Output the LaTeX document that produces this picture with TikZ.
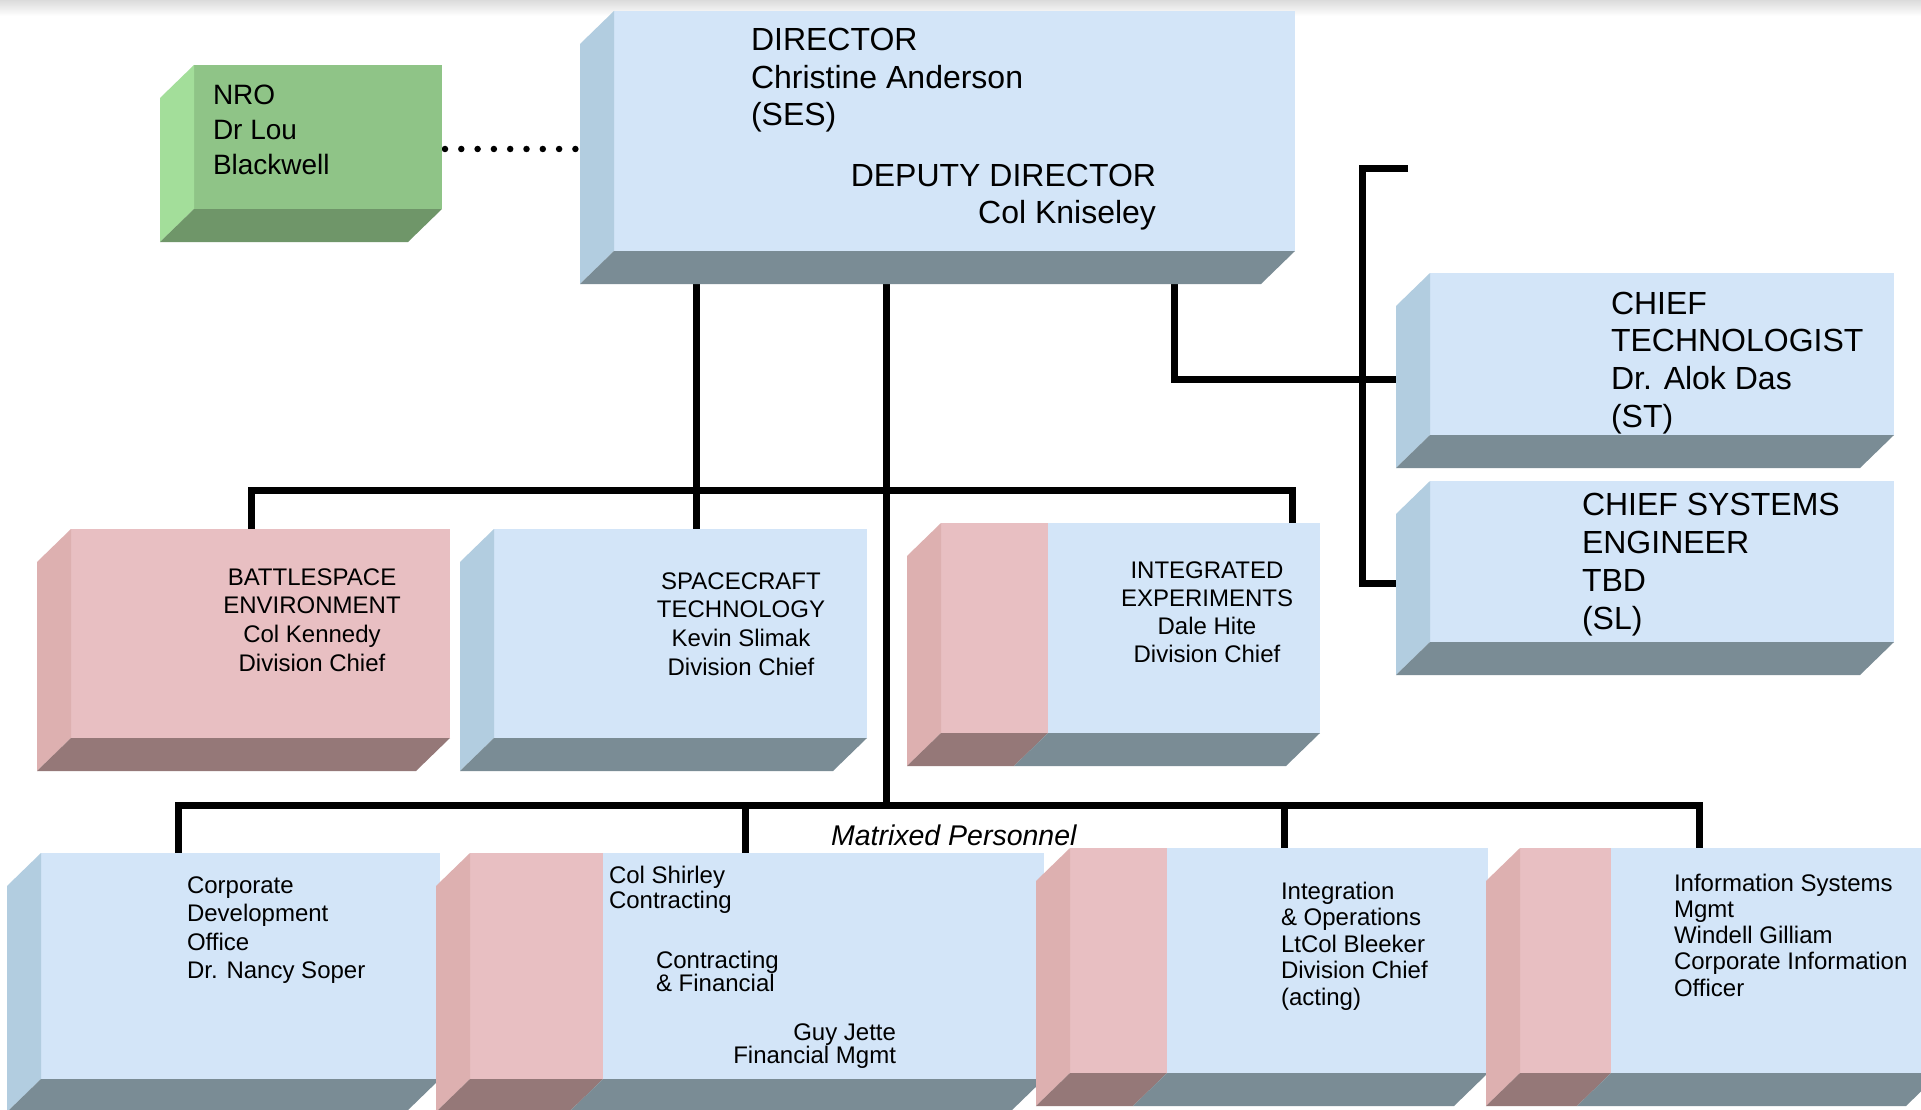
\documentclass[tikz,border=0pt]{standalone}
\usepackage{fontspec}
\setmainfont{Liberation Sans}
\usetikzlibrary{calc}
\pgfdeclarelayer{back0}
\pgfdeclarelayer{bg}
\pgfsetlayers{back0,bg,main}
\definecolor{bfront}{HTML}{D3E5F8}
\definecolor{bside}{HTML}{B2CDE0}
\definecolor{bbottom}{HTML}{7A8C95}
\definecolor{pfront}{HTML}{E8BFC2}
\definecolor{pside}{HTML}{DDB0B0}
\definecolor{pbottom}{HTML}{957878}
\definecolor{gfront}{HTML}{8FC487}
\definecolor{gside}{HTML}{A3DE9A}
\definecolor{gbottom}{HTML}{6F9669}
\tikzset{
  conn/.style={line width=7pt, draw=black},
  dotline/.style={line width=6.5pt, line cap=round, dash pattern=on 0pt off 16.3pt, draw=black},
  tx/.style={inner sep=0pt, outer sep=0pt, text=black},
  facebox/.style={inner sep=0pt, outer sep=0pt, rectangle, anchor=north west},
  f32/.style={font=\fontsize{32}{38}\selectfont},
  f28/.style={font=\fontsize{28}{34}\selectfont},
  f24/.style={font=\fontsize{24}{29}\selectfont},
}
\newcommand\cube[8]{%
  \node[facebox, fill=#6, minimum width={#4-#2}, minimum height={#5-#3}] (#1) at (#2,#3) {};
  \fill[#7] (#1.north west) -- (#1.south west) -- ++(-34,33) -- ($(#1.north west)+(-34,33)$) -- cycle;
  \fill[#8] (#1.south west) -- (#1.south east) -- ++(-34,33) -- ($(#1.south west)+(-34,33)$) -- cycle;
}
\newcommand\splitcube[6]{%
  \node[facebox, fill=bfront, minimum width={#4-#2}, minimum height={#5-#3}] (#1) at (#2,#3) {};
  \fill[pfront] (#1.north west) rectangle (#6,#5);
  \fill[pside] (#1.north west) -- (#1.south west) -- ++(-34,33) -- ($(#1.north west)+(-34,33)$) -- cycle;
  \fill[pbottom] (#1.south west) -- (#6,#5) -- ++(-34,33) -- ($(#1.south west)+(-34,33)$) -- cycle;
  \fill[bbottom] (#6,#5) -- (#1.south east) -- ++(-34,33) -- ($(#6,#5)+(-34,33)$) -- cycle;
}
\newcommand\tlines[6]{%
  \foreach \tl [count=\ti] in {#6}{\node[tx,#2] (#1\ti) at (#3,{#4+(\ti-1)*#5}) {\tl};}%
}
\begin{document}
\begin{tikzpicture}[x=1pt,y=-1pt]
\useasboundingbox (0,0) rectangle (1921,1110);
\begin{pgfonlayer}{back0}
  \fill[white] (0,0) rectangle (1921,1110);
  \shade[top color=black!14, bottom color=white] (0,0) rectangle (1921,16);
\end{pgfonlayer}
\clip (0,0) rectangle (1921,1110);

% boxes
\cube{nro}{194}{65}{442}{209}{gfront}{gside}{gbottom}
\cube{dir}{614}{11}{1295}{251}{bfront}{bside}{bbottom}
\cube{cte}{1430}{273}{1894}{435}{bfront}{bside}{bbottom}
\cube{cse}{1430}{481}{1894}{642}{bfront}{bside}{bbottom}
\cube{bat}{71}{529}{450}{738}{pfront}{pside}{pbottom}
\cube{spc}{494}{529}{867}{738}{bfront}{bside}{bbottom}
\splitcube{iex}{941}{523}{1320}{733}{1048}
\cube{cor}{41}{853}{440}{1079}{bfront}{bside}{bbottom}
\splitcube{shi}{470}{853}{1044}{1079}{603}
\splitcube{ops}{1070}{848}{1488}{1073}{1167}
\splitcube{inf}{1520}{848}{1940}{1073}{1611}

% connectors
\begin{pgfonlayer}{bg}
  \draw[dotline] ([yshift=-12pt]nro.east) ++(3,0) -- ([yshift=-12pt]nro.east -| dir.west);
  \coordinate (a1) at (251,490);
  \coordinate (a2) at (1292,490);
  \coordinate (a3) at (696,490);
  \draw[conn] (a1 |- bat.north) -- (a1) -- (a2) -- (a2 |- iex.north);
  \draw[conn] (a3 |- dir.south) -- (a3 |- spc.north);
  \coordinate (c) at (886,805);
  \draw[conn] (c |- dir.south) -- (c);
  \coordinate (b1) at (178,805);
  \coordinate (b2) at (745,805);
  \coordinate (b3) at (1284,805);
  \coordinate (b4) at (1699,805);
  \draw[conn] (b1 |- cor.north) -- (b1) -- (b4) -- (b4 |- inf.north);
  \draw[conn] (b2) -- (b2 |- shi.north);
  \draw[conn] (b3) -- (b3 |- ops.north);
  \coordinate (r1) at (1174,379);
  \draw[conn] (r1 |- dir.south) -- (r1) -- (r1 -| cte.west);
  \coordinate (r2) at (1362,169);
  \coordinate (r3) at (1408,169);
  \coordinate (r4) at (1362,583);
  \draw[conn] (r3) -- (r2) -- (r4) -- (r4 -| cse.west);
\end{pgfonlayer}

% texts
\tlines{nrot}{f28,anchor=base west}{213}{105}{35}{{NRO},{Dr Lou},{Blackwell}}
\tlines{dirt}{f32,anchor=base west}{751}{51}{37.5}{{DIRECTOR},{Christine Anderson},{(SES)}}
\tlines{dept}{f32,anchor=base east}{1156}{187}{36}{{DEPUTY DIRECTOR},{Col Kniseley}}
\tlines{ctet}{f32,anchor=base west}{1611}{314}{37.7}{{CHIEF},{TECHNOLOGIST},{Dr. Alok Das},{(ST)}}
\tlines{cset}{f32,anchor=base west}{1582}{515}{38.3}{{CHIEF SYSTEMS},{ENGINEER},{TBD},{(SL)}}
\tlines{batt}{f24,anchor=base}{312}{585}{28.7}{{BATTLESPACE},{ENVIRONMENT},{Col Kennedy},{Division Chief}}
\tlines{spct}{f24,anchor=base}{741}{589}{28.7}{{SPACECRAFT},{TECHNOLOGY},{Kevin Slimak},{Division Chief}}
\tlines{iext}{f24,anchor=base}{1207}{578}{28.3}{{INTEGRATED},{EXPERIMENTS},{Dale Hite},{Division Chief}}
\tlines{cort}{f24,anchor=base west}{187}{893}{28.5}{{Corporate},{Development},{Office},{Dr. Nancy Soper}}
\tlines{shia}{f24,anchor=base west}{609}{883}{25}{{Col Shirley},{Contracting}}
\tlines{shib}{f24,anchor=base west}{656}{968}{23}{{Contracting},{\& Financial}}
\tlines{shic}{f24,anchor=base east}{896}{1040}{23}{{Guy Jette},{Financial Mgmt}}
\tlines{opst}{f24,anchor=base west}{1281}{899}{26.5}{{Integration},{\& Operations},{LtCol Bleeker},{Division Chief},{(acting)}}
\tlines{inft}{f24,anchor=base west}{1674}{891}{26.3}{{Information Systems},{Mgmt},{Windell Gilliam},{Corporate Information},{Officer}}
\node[tx, font=\fontsize{28.5}{34}\selectfont\itshape, anchor=base west] (mp) at (831,845) {Matrixed Personnel};
\end{tikzpicture}
\end{document}
